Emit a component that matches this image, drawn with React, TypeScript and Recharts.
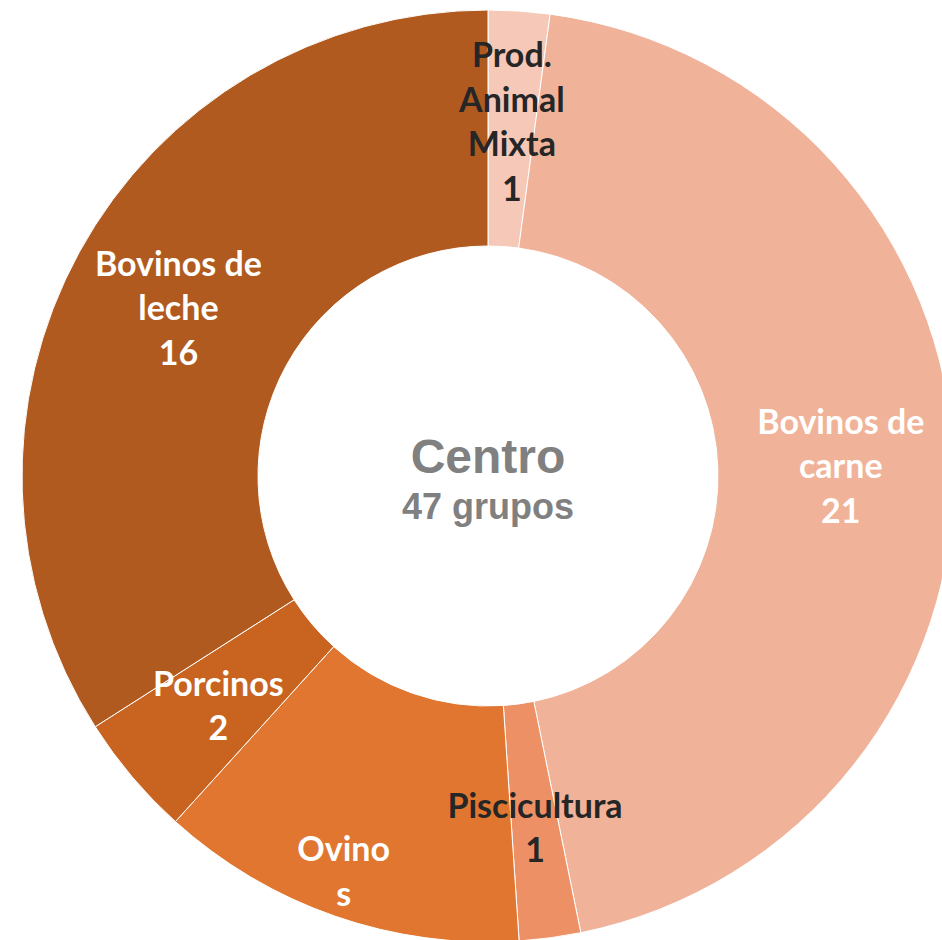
import React from "react";
import { PieChart, Pie, Cell } from "recharts";

const categories = [
  "Prod. Animal Mixta",
  "Bovinos de carne",
  "Piscicultura",
  "Ovinos",
  "Porcinos",
  "Bovinos de leche",
];
const values = [1, 21, 1, 6, 2, 16];
const labelLines = [
  ["Prod.", "Animal", "Mixta"],
  ["Bovinos de", "carne"],
  ["Piscicultura"],
  ["Ovino", "s"],
  ["Porcinos"],
  ["Bovinos de", "leche"],
];
// the value line of "Ovinos" falls outside the visible area in the reference
const showValue = [true, true, true, false, true, true];
const centerTitle = "Centro";
const centerSubtitle = "47 grupos";

const colors = ["#F6C8B8", "#F0B399", "#EE9066", "#E0762F", "#C8641F", "#B05A1F"];
const labelColors = ["#262626", "#FFFFFF", "#262626", "#FFFFFF", "#FFFFFF", "#FFFFFF"];

const data = categories.map((name, i) => ({ name, value: values[i], idx: i }));

const CX = 488;
const CY = 476;
const RAD = Math.PI / 180;
const FONT = "Lato, 'Open Sans', sans-serif";
const LINE_H = 44.5;

const renderLabel = (props: any) => {
  const { cx, cy, midAngle, innerRadius, outerRadius, payload, index } = props;
  const i = payload && payload.idx !== undefined ? payload.idx : index;
  let r = (innerRadius + outerRadius) / 2 + 5;
  let nLines = labelLines[i].length + 1;
  if (categories[i] === "Ovinos") r = outerRadius - 26;
  if (categories[i] === "Prod. Animal Mixta") r += 4;
  const x = cx + r * Math.cos(-midAngle * RAD);
  const y = cy + r * Math.sin(-midAngle * RAD);
  const lines = showValue[i] ? [...labelLines[i], String(values[i])] : [...labelLines[i]];
  const startY = y - ((nLines - 1) * LINE_H) / 2;
  return (
    <text
      key={`lbl-${i}`}
      x={x}
      y={startY}
      textAnchor="middle"
      dominantBaseline="central"
      fill={labelColors[i]}
      fontFamily={FONT}
      fontWeight={700}
      fontSize={34}
    >
      {lines.map((t, k) => (
        <tspan key={k} x={x} y={startY + k * LINE_H} dominantBaseline="central">
          {t}
        </tspan>
      ))}
    </text>
  );
};

export default function App() {
  return (
    <div
      style={{
        position: "fixed",
        left: 0,
        top: 0,
        width: 942,
        height: 940,
        overflow: "hidden",
        background: "#ffffff",
      }}
    >
      <PieChart width={942} height={940} margin={{ top: 0, right: 0, bottom: 0, left: 0 }}>
        <Pie
          data={data}
          dataKey="value"
          nameKey="name"
          cx={CX}
          cy={CY}
          innerRadius={230}
          outerRadius={466}
          startAngle={90}
          endAngle={-270}
          stroke="#ffffff"
          strokeWidth={1}
          label={renderLabel}
          labelLine={false}
          isAnimationActive={false}
        >
          {data.map((d, i) => (
            <Cell key={d.name} fill={colors[i]} />
          ))}
        </Pie>
      </PieChart>
      <svg
        width={942}
        height={940}
        style={{ position: "absolute", left: 0, top: 0, pointerEvents: "none" }}
      >
        <text
          x={CX}
          y={CY - 20}
          textAnchor="middle"
          dominantBaseline="central"
          fill="#808080"
          fontFamily="'Liberation Sans', Arial, sans-serif"
          fontWeight={700}
          fontSize={48}
        >
          {centerTitle}
        </text>
        <text
          x={CX}
          y={CY + 30}
          textAnchor="middle"
          dominantBaseline="central"
          fill="#808080"
          fontFamily="'Liberation Sans', Arial, sans-serif"
          fontWeight={700}
          fontSize={36}
        >
          {centerSubtitle}
        </text>
      </svg>
    </div>
  );
}
